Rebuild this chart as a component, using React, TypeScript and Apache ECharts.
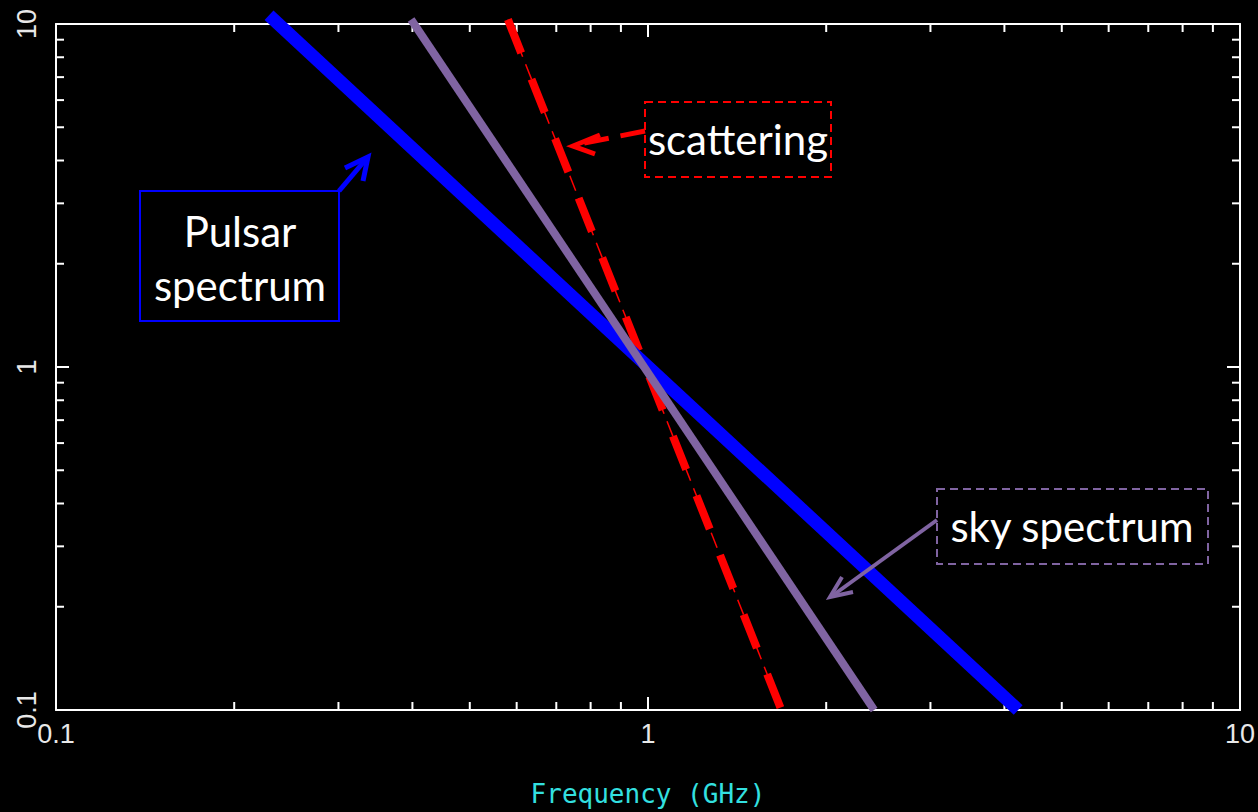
import React, { useEffect, useRef } from "react";
import * as echarts from "echarts";

// Power-law lines (endpoints)
const pulsarFreq = [0.229, 4.22];
const pulsarFlux = [10.6, 0.1];
const skyFreq = [0.398, 2.41];
const skyFlux = [10.3, 0.1];
const scatFreq = [0.58, 1.68];
const scatFlux = [10.3, 0.1];

// Axis ticks
const axisMin = 0.1;
const axisMax = 10;
const majorTickLabels = ["0.1", "1", "10"];
const minorTickValues = [0.2, 0.3, 0.4, 0.5, 0.6, 0.7, 0.8, 0.9, 2, 3, 4, 5, 6, 7, 8, 9];

const xName = "Frequency (GHz)";
const annotations = {
  pulsar: ["Pulsar", "spectrum"],
  scattering: "scattering",
  sky: "sky spectrum",
};

const FRAME = "#ffffff";
const LABEL = "#e8e8e8";
const BLUE = "#0000ff";
const PURPLE = "#8064a2";
const RED = "#ff0000";

function pairs(xs: number[], ys: number[]) {
  return xs.map((x, i) => [x, ys[i]]);
}

export default function App() {
  const ref = useRef<HTMLDivElement>(null);
  useEffect(() => {
    if (!ref.current) return;
    const chart = echarts.init(ref.current, null, { renderer: "svg" });

    const tickStyle = { stroke: FRAME, lineWidth: 2 };
    const minorLen = 8;

    const baseX = {
      type: "log" as const,
      logBase: 10,
      min: axisMin,
      max: axisMax,
      axisLine: { show: true, lineStyle: { color: FRAME, width: 2 } },
      axisTick: { show: true, inside: true, length: 13, lineStyle: { color: FRAME, width: 2 } },
      splitLine: { show: false },
      minorTick: { show: false },
      minorSplitLine: { show: false },
    };

    const labelFormatter = (v: number) => {
      const i = [0.1, 1, 10].findIndex((t) => Math.abs(t - v) < 1e-9);
      return i >= 0 ? majorTickLabels[i] : "";
    };

    const option: any = {
      animation: false,
      backgroundColor: "#000000",
      grid: { left: 56, right: 13, top: 24, bottom: 100, containLabel: false },
      xAxis: [
        {
          ...baseX,
          position: "bottom",
          axisLabel: {
            show: true,
            color: LABEL,
            fontFamily: "Liberation Sans",
            fontSize: 27,
            margin: 10,
            formatter: labelFormatter,
          },
          name: xName,
          nameLocation: "middle",
          nameGap: 71,
          nameTextStyle: { color: "#33e0e0", fontFamily: "DejaVu Sans Mono", fontSize: 26 },
        },
        { ...baseX, position: "top", axisLabel: { show: false } },
      ],
      yAxis: [
        {
          ...baseX,
          position: "left",
          axisLabel: {
            show: true,
            color: LABEL,
            fontFamily: "Liberation Sans",
            fontSize: 27,
            rotate: 90,
            margin: 16,
            formatter: labelFormatter,
          },
        },
        { ...baseX, position: "right", axisLabel: { show: false } },
      ],
      series: [
        {
          type: "custom",
          name: "xMinor",
          coordinateSystem: "cartesian2d",
          clip: false,
          silent: true,
          data: minorTickValues.map((v) => [v, 1]),
          encode: { x: 0, y: 1 },
          renderItem: (params: any, api: any) => {
            const cs = params.coordSys;
            const x = api.coord([api.value(0), 1])[0];
            const b = cs.y + cs.height;
            return {
              type: "group",
              children: [
                { type: "line", shape: { x1: x, y1: b, x2: x, y2: b - minorLen }, style: tickStyle },
                { type: "line", shape: { x1: x, y1: cs.y, x2: x, y2: cs.y + minorLen }, style: tickStyle },
              ],
            };
          },
        },
        {
          type: "custom",
          name: "yMinor",
          coordinateSystem: "cartesian2d",
          clip: false,
          silent: true,
          data: minorTickValues.map((v) => [1, v]),
          encode: { x: 0, y: 1 },
          renderItem: (params: any, api: any) => {
            const cs = params.coordSys;
            const y = api.coord([1, api.value(1)])[1];
            const r = cs.x + cs.width;
            return {
              type: "group",
              children: [
                { type: "line", shape: { x1: cs.x, y1: y, x2: cs.x + minorLen, y2: y }, style: tickStyle },
                { type: "line", shape: { x1: r, y1: y, x2: r - minorLen, y2: y }, style: tickStyle },
              ],
            };
          },
        },
        {
          type: "line",
          name: "scattering-thin",
          data: pairs(scatFreq, scatFlux),
          showSymbol: false,
          clip: false,
          lineStyle: { color: RED, width: 1.5, type: [16, 8] },
          z: 2,
        },
        {
          type: "line",
          name: "scattering",
          data: pairs(scatFreq, scatFlux),
          showSymbol: false,
          clip: false,
          lineStyle: { color: RED, width: 8, type: [36, 28], cap: "butt" },
          z: 2,
        },
        {
          type: "line",
          name: "pulsar",
          data: pairs(pulsarFreq, pulsarFlux),
          showSymbol: false,
          clip: false,
          lineStyle: { color: BLUE, width: 13, cap: "butt" },
          z: 3,
        },
        {
          type: "line",
          name: "sky",
          data: pairs(skyFreq, skyFlux),
          showSymbol: false,
          clip: false,
          lineStyle: { color: PURPLE, width: 8, cap: "butt" },
          z: 4,
        },
      ],
      graphic: [
        // Pulsar annotation
        { type: "rect", shape: { x: 140, y: 191, width: 199, height: 130 }, style: { fill: "transparent", stroke: BLUE, lineWidth: 2 }, z: 10 },
        { type: "text", x: 240, y: 231, style: { text: annotations.pulsar[0], fill: "#ffffff", font: "42px Lato", align: "center", verticalAlign: "middle" }, z: 10 },
        { type: "text", x: 240, y: 285, style: { text: annotations.pulsar[1], fill: "#ffffff", font: "42px Lato", align: "center", verticalAlign: "middle" }, z: 10 },
        { type: "line", shape: { x1: 339, y1: 191, x2: 367, y2: 158 }, style: { stroke: BLUE, lineWidth: 5 }, z: 10 },
        { type: "polyline", shape: { points: [[345, 168], [368, 157], [363, 181]] }, style: { stroke: BLUE, lineWidth: 5, fill: "none" }, z: 10 },
        // Scattering annotation
        { type: "rect", shape: { x: 645, y: 102, width: 186, height: 75 }, style: { fill: "transparent", stroke: RED, lineWidth: 2, lineDash: [8, 5] }, z: 10 },
        { type: "text", x: 738, y: 139, style: { text: annotations.scattering, fill: "#ffffff", font: "42px Lato", align: "center", verticalAlign: "middle" }, z: 10 },
        { type: "line", shape: { x1: 645, y1: 131, x2: 575, y2: 145 }, style: { stroke: RED, lineWidth: 5, lineDash: [25, 12] }, z: 10 },
        { type: "polyline", shape: { points: [[600, 135], [573, 146], [595, 154]] }, style: { stroke: RED, lineWidth: 5, fill: "none" }, z: 10 },
        // Sky annotation
        { type: "rect", shape: { x: 937, y: 489, width: 271, height: 75 }, style: { fill: "transparent", stroke: PURPLE, lineWidth: 2, lineDash: [8, 5] }, z: 10 },
        { type: "text", x: 1072, y: 526, style: { text: annotations.sky, fill: "#ffffff", font: "42px Lato", align: "center", verticalAlign: "middle" }, z: 10 },
        { type: "line", shape: { x1: 937, y1: 520, x2: 832, y2: 596 }, style: { stroke: PURPLE, lineWidth: 4 }, z: 10 },
        { type: "polyline", shape: { points: [[842, 577], [830, 597], [853, 592]] }, style: { stroke: PURPLE, lineWidth: 4, fill: "none" }, z: 10 },
      ],
    };

    chart.setOption(option);
    return () => chart.dispose();
  }, []);

  return (
    <div
      ref={ref}
      style={{ position: "absolute", left: 0, top: 0, width: 1258, height: 812, background: "#000" }}
    />
  );
}
